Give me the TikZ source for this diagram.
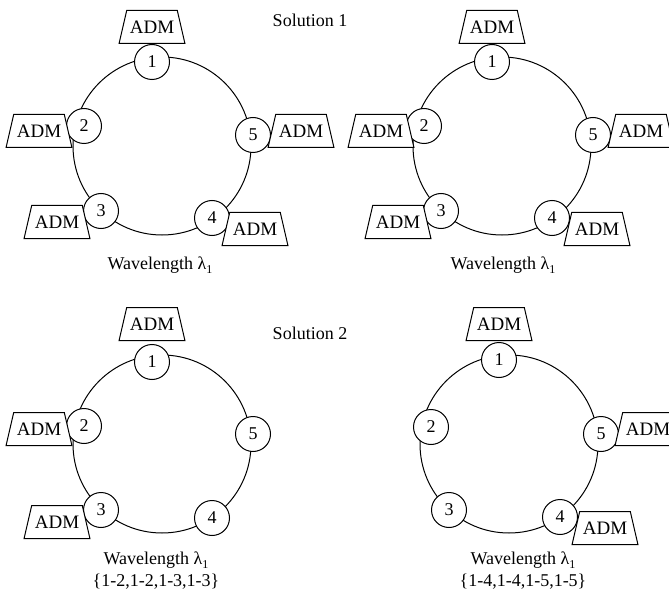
\documentclass[tikz,border=0pt]{standalone}
\usepackage{fontspec}
\setmainfont{Liberation Serif}
\usetikzlibrary{shapes.geometric}
\newcommand\fs{\fontsize{18}{21}\selectfont}
\newcommand\admfs{\fontsize{19}{21}\selectfont}
\newcommand\lamone{λ\raisebox{-0.5ex}{\fontsize{12}{12}\selectfont 1}}
\tikzset{
  ringc/.style={circle, draw, line width=1pt, minimum size=178pt, inner sep=0pt},
  site/.style={circle, draw, fill=white, line width=1pt, minimum size=35pt, inner sep=0pt, font=\fs},
  adm/.style={trapezium, draw, fill=white, line width=1pt, trapezium stretches=true,
    minimum width=66pt, minimum height=33pt, trapezium left angle=62, trapezium right angle=62,
    inner sep=0pt, font=\admfs},
  lbl/.style={font=\fs, inner sep=0pt}
}
\begin{document}
\begin{tikzpicture}[x=1pt, y=-1pt]
\clip (0,0) rectangle (669,604);
\fill[white] (0,0) rectangle (669,604);

% ---------- Solution 1, left ----------
\begin{scope}[shift={(0,0)}]
  \node[ringc] (ringA) at (162,146) {};
  \node[site] (a1) at (152,62) {1};
  \node[site] (a2) at (84,126) {2};
  \node[site] (a3) at (101,211) {3};
  \node[site] (a4) at (212,218) {4};
  \node[site] (a5) at (253,135) {5};
  \node[adm] (A1) at (152,27) {ADM};
  \node[adm] (A2) at (39,131) {ADM};
  \node[adm] (A3) at (57,222) {ADM};
  \node[adm] (A4) at (255,229) {ADM};
  \node[adm] (A5) at (301,131) {ADM};
  \node[lbl] (wA) at (160,265) {Wavelength \lamone};
\end{scope}

% ---------- Solution 1, right ----------
\begin{scope}[shift={(340,0)}]
  \node[ringc] (ringB) at (162,146) {};
  \node[site] (b1) at (152,62) {1};
  \node[site] (b2) at (84,126) {2};
  \node[site] (b3) at (101,211) {3};
  \node[site] (b4) at (212,218) {4};
  \node[site] (b5) at (253,135) {5};
  \node[adm] (B1) at (152,27) {ADM};
  \node[adm] (B2) at (41,131) {ADM};
  \node[adm] (B3) at (58,222) {ADM};
  \node[adm] (B4) at (257,229) {ADM};
  \node[adm] (B5) at (301,131) {ADM};
  \node[lbl] (wB) at (163,265) {Wavelength \lamone};
\end{scope}

\node[lbl] (sol1) at (310,20) {Solution 1};
\node[lbl] (sol2) at (310,333) {Solution 2};

% ---------- Solution 2, left ----------
\begin{scope}[shift={(0,298)}]
  \node[ringc] (ringC) at (162,146) {};
  \node[site] (c1) at (152,64) {1};
  \node[site] (c2) at (84,128) {2};
  \node[site] (c3) at (101,212) {3};
  \node[site] (c4) at (212,220) {4};
  \node[site] (c5) at (253,136) {5};
  \node[adm] (C1) at (152,26) {ADM};
  \node[adm] (C2) at (39,131) {ADM};
  \node[adm] (C3) at (57,224) {ADM};
  \node[lbl] (wC) at (156,262) {Wavelength \lamone};
  \node[lbl] (sC) at (156,284) {\{1-2,1-2,1-3,1-3\}};
\end{scope}

% ---------- Solution 2, right ----------
\begin{scope}[shift={(347,298)}]
  \node[ringc] (ringD) at (162,146) {};
  \node[site] (d1) at (152,62) {1};
  \node[site] (d2) at (84,129) {2};
  \node[site] (d3) at (102,212) {3};
  \node[site] (d4) at (213,219) {4};
  \node[site] (d5) at (254,136) {5};
  \node[adm] (D1) at (152,26) {ADM};
  \node[adm] (D4) at (258,230) {ADM};
  \node[adm] (D5) at (301,131) {ADM};
  \node[lbl] (wD) at (176,262) {Wavelength \lamone};
  \node[lbl] (sD) at (176,284) {\{1-4,1-4,1-5,1-5\}};
\end{scope}
\end{tikzpicture}
\end{document}
